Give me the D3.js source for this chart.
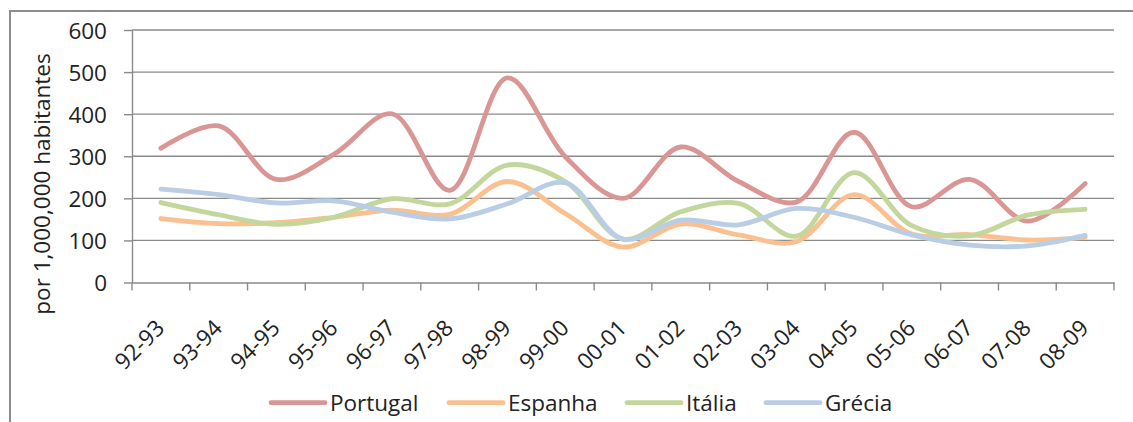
<!DOCTYPE html>
<html>
<head>
<meta charset="utf-8">
<script src="https://cdn.jsdelivr.net/npm/d3@7"></script>
<style>
  html, body { margin: 0; padding: 0; background: #fff; }
  svg { display: block; }
  text { font-family: "Open Sans", sans-serif; fill: #222; }
</style>
</head>
<body>
<svg id="chart" width="1133" height="422"></svg>
<script>
const categories = ["92-93","93-94","94-95","95-96","96-97","97-98","98-99","99-00","00-01","01-02","02-03","03-04","04-05","05-06","06-07","07-08","08-09"];
const portugal = [319, 372, 245, 305, 401, 219, 486, 299, 200, 322, 240, 191, 357, 180, 245, 146, 235];
const espanha  = [152, 140, 142, 155, 172, 162, 240, 164,  84, 139, 113,  97, 209, 115, 114, 101, 107];
const italia   = [190, 161, 138, 155, 199, 187, 279, 240, 103, 168, 188, 110, 261, 135, 111, 160, 174];
const grecia   = [222, 209, 189, 194, 167, 151, 187, 237, 103, 148, 137, 176, 155, 113,  89,  87, 112];
const yTicks = [0, 100, 200, 300, 400, 500, 600];
const seriesNames = ["Portugal", "Espanha", "Itália", "Grécia"];
const seriesColors = ["#D99694", "#FAC090", "#C3D69B", "#B9CDE5"];
const yTitle = "por 1,000,000 habitantes";

const series = [portugal, espanha, italia, grecia].map((v, i) => ({ name: seriesNames[i], values: v, color: seriesColors[i] }));

const svg = d3.select("#chart");
const plot = { left: 132, right: 1114, top: 30, bottom: 282.5 };
const gridColor = "#8a8a8a";

// outer chart border
svg.append("rect")
  .attr("x", 10).attr("y", 11)
  .attr("width", 1300).attr("height", 600)
  .attr("fill", "none").attr("stroke", "#8c8c8c").attr("stroke-width", 2);

const x = d3.scaleBand().domain(categories).range([plot.left, plot.right]).padding(0);
const y = d3.scaleLinear().domain([0, 600]).range([plot.bottom, plot.top]);

// gridlines
svg.append("g").selectAll("line").data(yTicks.filter(d => d > 0)).join("line")
  .attr("x1", plot.left).attr("x2", plot.right)
  .attr("y1", d => y(d)).attr("y2", d => y(d))
  .attr("stroke", gridColor).attr("stroke-width", 1.4);

// y axis
const yAxis = svg.append("g").attr("transform", `translate(${plot.left},0)`)
  .call(d3.axisLeft(y).tickValues(yTicks).tickSize(8).tickPadding(17).tickSizeOuter(0));
yAxis.select(".domain").attr("stroke", gridColor).attr("stroke-width", 1.4);
yAxis.selectAll(".tick line").attr("stroke", gridColor).attr("stroke-width", 1.4);
yAxis.selectAll(".tick text").attr("font-size", 22.5).attr("font-family", "Open Sans").attr("fill", "#222").attr("dy", "0.36em");

// x axis
const xAxis = svg.append("g").attr("transform", `translate(0,${plot.bottom})`)
  .call(d3.axisBottom(x).tickSize(0).tickFormat(""));
xAxis.select(".domain").attr("stroke", gridColor).attr("stroke-width", 1.4);
// category boundary ticks
const boundaries = categories.map(c => x(c)).concat([plot.right]);
svg.append("g").selectAll("line").data(boundaries).join("line")
  .attr("x1", d => d).attr("x2", d => d)
  .attr("y1", plot.bottom).attr("y2", plot.bottom + 8)
  .attr("stroke", gridColor).attr("stroke-width", 1.4);

// x labels rotated
svg.append("g").selectAll("text").data(categories).join("text")
  .attr("transform", d => `translate(${x(d) + x.bandwidth() / 2 + 5},${plot.bottom + 47}) rotate(-45)`)
  .attr("text-anchor", "end")
  .attr("font-size", 22.5)
  .text(d => d);

// y title
svg.append("text")
  .attr("transform", `translate(50,184) rotate(-90)`)
  .attr("text-anchor", "middle")
  .attr("font-size", 22.5)
  .text(yTitle);

// lines
const line = d3.line()
  .x((d, i) => x(categories[i]) + x.bandwidth() / 2)
  .y(d => y(d))
  .curve(d3.curveCatmullRom.alpha(0.5));

svg.append("g").selectAll("path").data(series).join("path")
  .attr("d", d => line(d.values))
  .attr("fill", "none")
  .attr("stroke", d => d.color)
  .attr("stroke-width", 4.8)
  .attr("stroke-linecap", "round")
  .attr("stroke-linejoin", "round");

// legend
const legendX = [271, 449, 627, 766];
const legend = svg.append("g").selectAll("g").data(series).join("g")
  .attr("transform", (d, i) => `translate(${legendX[i]},402.7)`);
legend.append("line")
  .attr("x1", 0).attr("x2", 54).attr("y1", 0).attr("y2", 0)
  .attr("stroke", d => d.color).attr("stroke-width", 4.8).attr("stroke-linecap", "round");
legend.append("text")
  .attr("x", 59).attr("y", 0).attr("dy", "0.36em")
  .attr("font-size", 22.5)
  .text(d => d.name);
</script>
</body>
</html>
